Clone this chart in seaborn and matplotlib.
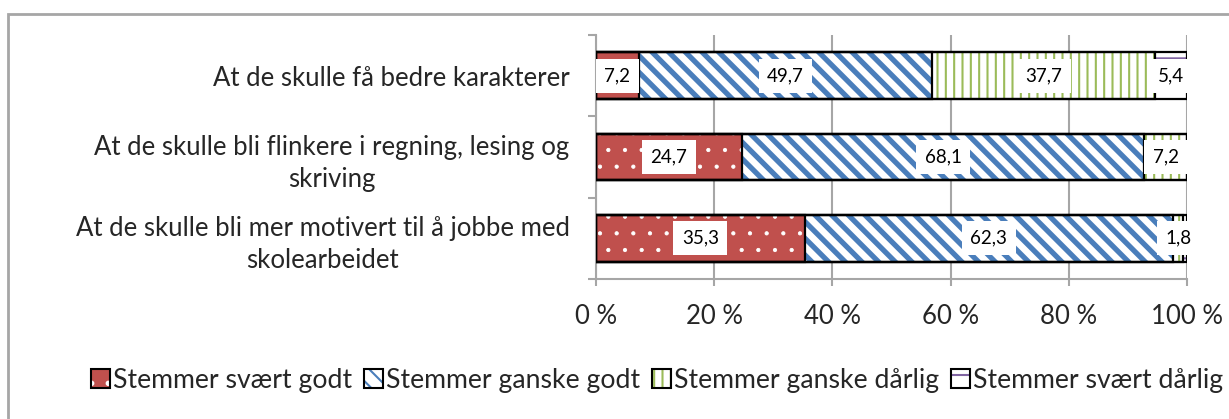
import matplotlib
matplotlib.use("Agg")
import matplotlib.pyplot as plt
from matplotlib.patches import Patch, Rectangle
from matplotlib.legend_handler import HandlerTuple
import seaborn as sns
import numpy as np

categories = [
    "At de skulle få bedre karakterer",
    "At de skulle bli flinkere i regning, lesing og\nskriving",
    "At de skulle bli mer motivert til å jobbe med\nskolearbeidet",
]
series_names = ["Stemmer svært godt", "Stemmer ganske godt",
                "Stemmer ganske dårlig", "Stemmer svært dårlig"]
svaert_godt = [7.2, 24.7, 35.3]
ganske_godt = [49.7, 68.1, 62.3]
ganske_darlig = [37.7, 7.2, 1.8]
svaert_darlig = [5.4, 0.0, 0.6]
x_ticks = [0, 20, 40, 60, 80, 100]
x_tick_labels = ["0 %", "20 %", "40 %", "60 %", "80 %", "100 %"]

series = [svaert_godt, ganske_godt, ganske_darlig, svaert_darlig]
faces = ["#C0504D", "white", "white", "white"]
hatch_cols = ["white", "#4A7EBB", "#9BBB59", "#8064A2"]
hatches = [".", "\\\\", "||", "-"]
hatch_lw = [0.6, 3.8, 1.5, 1.5]

sns.set_theme(style="white")
plt.rcParams["font.family"] = ["Lato", "DejaVu Sans"]
plt.rcParams["hatch.linewidth"] = 1.5

W, H = 1229, 419
fig = plt.figure(figsize=(W / 100, H / 100), dpi=100)
ax = fig.add_axes([596 / W, 1 - 279 / H, (1187 - 596) / W, (279 - 35) / H])

# outer chart border
fig.patches.append(Rectangle((8 / W, -0.05), 1.2, 1 - 14 / H + 0.05, transform=fig.transFigure,
                             fill=False, edgecolor="#A6A6A6", linewidth=2, zorder=0))

vals = np.array(series)
cum = np.cumsum(vals, axis=0)
bar_w = 0.57

for k in range(len(series) - 1, -1, -1):
    sns.barplot(x=cum[k], y=categories, orient="h", color=faces[k], saturation=1,
                width=bar_w, ax=ax, zorder=2)
    for p in ax.containers[-1]:
        p.set_facecolor(faces[k])
        p.set_edgecolor(hatch_cols[k])
        p.set_hatch(hatches[k])
        p.set_linewidth(0)
        if hasattr(p, "set_hatch_linewidth"):
            p.set_hatch_linewidth(hatch_lw[k])
    sns.barplot(x=cum[k], y=categories, orient="h", color="black", saturation=1,
                width=bar_w, ax=ax, zorder=3)
    for p in ax.containers[-1]:
        p.set_facecolor("none")
        p.set_edgecolor("black")
        p.set_linewidth(1.6)

# data labels
for k in range(len(series)):
    for i in range(len(categories)):
        v = vals[k, i]
        if v < 1:
            continue
        xc = cum[k, i] - v / 2
        ax.text(xc, i, f"{v:.1f}".replace(".", ","), ha="center", va="center",
                fontsize=13.5, color="black", zorder=5,
                bbox=dict(boxstyle="square,pad=0.45", facecolor="white", edgecolor="none"))

ax.set_xlim(0, 100)
ax.set_ylim(2.5, -0.5)
ax.set_xticks(x_ticks)
ax.set_xticklabels(x_tick_labels, fontsize=18.5)
ax.set_xlabel("")
ax.set_ylabel("")
ax.set_yticks(range(len(categories)))
ax.set_yticklabels(categories, fontsize=18.5, linespacing=1.35)
for t in ax.get_yticklabels():
    t.set_multialignment("center")
ax.set_yticks([-0.5, 0.5, 1.5, 2.5], minor=True)
ax.tick_params(axis="y", which="major", length=0, pad=19)
ax.tick_params(axis="y", which="minor", length=6, width=1.5, color="#A6A6A6", direction="out", left=True)
ax.tick_params(axis="x", which="major", length=5, width=1.5, color="#A6A6A6", direction="out",
               bottom=True, pad=13)
ax.grid(axis="x", color="#A6A6A6", linewidth=1.5)
ax.grid(axis="y", visible=False)
ax.set_axisbelow(True)
for s in ["top", "right"]:
    ax.spines[s].set_visible(False)
for s in ["left", "bottom"]:
    ax.spines[s].set_color("#A6A6A6")
    ax.spines[s].set_linewidth(1.5)

handles = []
for k in range(len(series)):
    h1 = Patch(facecolor=faces[k], edgecolor=hatch_cols[k], hatch=hatches[k], linewidth=0)
    h2 = Patch(facecolor="none", edgecolor="black", linewidth=1.5)
    handles.append((h1, h2))
fig.legend(handles, series_names, loc="center", bbox_to_anchor=(657 / W, 1 - 380 / H),
           ncol=4, frameon=False, fontsize=19.2, handler_map={tuple: HandlerTuple(ndivide=1)},
           handlelength=0.7, handleheight=0.7, handletextpad=0.12, columnspacing=0.45)

fig.savefig("out.png", dpi=100)
